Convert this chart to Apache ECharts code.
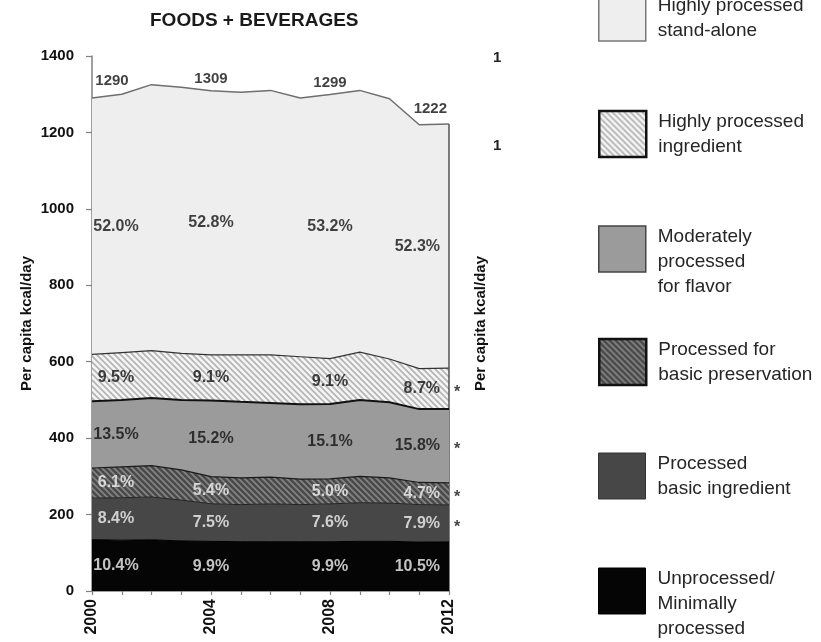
<!DOCTYPE html>
<html>
<head>
<meta charset="utf-8">
<script src="https://cdn.jsdelivr.net/npm/echarts@6/dist/echarts.min.js"></script>
<style>
  html, body { margin: 0; padding: 0; background: #ffffff; }
  #chart { width: 821px; height: 642px; }
</style>
</head>
<body>
<div id="chart"></div>
<script>
// Per capita kcal/day from foods + beverages, by processing level, 2000-2012
const years = ['2000', '2001', '2002', '2003', '2004', '2005', '2006', '2007', '2008', '2009', '2010', '2011', '2012'];
const unprocessed       = [134.3, 133, 134, 131, 129.9, 129, 129, 129, 128.9, 130, 130, 128, 128.6];
const basicIngredient   = [108.6, 111, 112, 107, 98.4, 97, 99, 97, 99.0, 101, 100, 98, 96.8];
const basicPreservation = [79.0, 81, 82, 79, 70.9, 70, 70, 67, 65.3, 69, 66, 58, 57.7];
const flavorProcessed   = [174.5, 175, 177, 183, 199.3, 199, 194, 196, 196.4, 200, 198, 192, 193.4];
const highlyIngredient  = [122.8, 124, 124, 122, 119.3, 123, 126, 124, 118.5, 125, 113, 106, 106.6];
const highlyStandalone  = [670.8, 676, 696, 696, 691.2, 687, 692, 677, 690.9, 685, 681, 638, 638.9];
const labeledYears = ['2000', '2004', '2008', '2012'];
// groups whose 2000-2012 change is marked with an asterisk
const flaggedGroups = ['Processed basic ingredient', 'Processed for basic preservation',
  'Moderately processed for flavor', 'Highly processed ingredient'];
const yMin = 0, yMax = 1400, yStep = 200;

const FONT = '"Liberation Sans", Arial, Helvetica, sans-serif';

// diagonal "\" hatch tile used as a pattern fill
function hatch(bg, stripe, size, lw) {
  const c = document.createElement('canvas');
  c.width = c.height = size;
  const g = c.getContext('2d');
  g.fillStyle = bg;
  g.fillRect(0, 0, size, size);
  g.strokeStyle = stripe;
  g.lineWidth = lw;
  g.beginPath();
  for (let k = -1; k <= 1; k++) {
    g.moveTo(-1, k * size - 1);
    g.lineTo(size + 1, size + k * size + 1);
  }
  g.stroke();
  return { image: c, repeat: 'repeat' };
}

// bottom to top
const layers = [
  { name: 'Unprocessed/Minimally processed', legend: 'Unprocessed/\nMinimally\nprocessed', values: unprocessed,
    fill: '#050505', line: { color: '#000000', width: 1 }, labelColor: '#f2f2f2',
    box: { color: '#000000', width: 1 } },
  { name: 'Processed basic ingredient', legend: 'Processed\nbasic ingredient', values: basicIngredient,
    fill: '#474747', line: { color: '#222222', width: 1 }, labelColor: '#f2f2f2',
    box: { color: '#333333', width: 1 } },
  { name: 'Processed for basic preservation', legend: 'Processed for\nbasic preservation', values: basicPreservation,
    fill: hatch('#4a4a4a', '#858585', 6, 1.6), line: { color: '#1a1a1a', width: 1.2 }, labelColor: '#f2f2f2',
    box: { color: '#111111', width: 2.5 } },
  { name: 'Moderately processed for flavor', legend: 'Moderately\nprocessed\nfor flavor', values: flavorProcessed,
    fill: '#9b9b9b', line: { color: '#111111', width: 2 }, labelColor: '#111111',
    box: { color: '#444444', width: 1.5 } },
  { name: 'Highly processed ingredient', legend: 'Highly processed\ningredient', values: highlyIngredient,
    fill: hatch('#f4f4f4', '#b3b3b3', 6, 1.6), line: { color: '#333333', width: 1.2 }, labelColor: '#111111',
    box: { color: '#111111', width: 2.5 } },
  { name: 'Highly processed stand-alone', legend: 'Highly processed\nstand-alone', values: highlyStandalone,
    fill: '#eeeeee', line: { color: '#6e6e6e', width: 1.5 }, labelColor: '#111111',
    box: { color: '#777777', width: 1.5 } }
];

const totals = years.map((_, j) => layers.reduce((s, l) => s + l.values[j], 0));
const lastIdx = years.length - 1;

// horizontal placement of annotations in the first / last columns
function colLabel(j, extra) {
  if (j === 0) return Object.assign({ align: 'center', offset: [24, 0] }, extra);
  if (j === lastIdx) return Object.assign({ align: 'right', offset: [-9, 0] }, extra);
  return Object.assign({ align: 'center', offset: [0, 0] }, extra);
}

const shareData = [];
const starData = [];
labeledYears.forEach(y => {
  const j = years.indexOf(y);
  let base = 0;
  layers.forEach(l => {
    const v = l.values[j];
    const mid = base + v / 2;
    base += v;
    const pct = (v / totals[j] * 100).toFixed(1) + '%';
    shareData.push({
      value: [j, mid],
      label: colLabel(j, { formatter: pct, color: l.labelColor })
    });
    if (j === lastIdx && flaggedGroups.indexOf(l.name) >= 0) {
      starData.push({ value: [j, mid] });
    }
  });
});

const totalData = labeledYears.map(y => {
  const j = years.indexOf(y);
  let offset = [0, -12];
  let align = 'center';
  if (j === 0) offset = [20, -17];
  if (j === lastIdx) { offset = [-2, -15]; align = 'right'; }
  return { value: [j, totals[j]], label: { formatter: String(Math.round(totals[j])), offset, align } };
});

const areaSeries = layers.map((l, i) => ({
  name: l.name,
  type: 'line',
  stack: 'kcal',
  data: l.values,
  symbol: 'none',
  smooth: false,
  z: 2 + (layers.length - i),
  lineStyle: { color: l.line.color, width: l.line.width },
  itemStyle: { color: l.labelColor === '#111111' ? '#cccccc' : '#333333' },
  areaStyle: { color: l.fill, opacity: 1 },
  emphasis: { disabled: true },
  silent: true
}));

// closing edge of the stacked area at the final year
areaSeries[areaSeries.length - 1].markLine = {
  silent: true,
  symbol: 'none',
  label: { show: false },
  lineStyle: { color: '#555555', width: 1.5, type: 'solid' },
  data: [[{ coord: [lastIdx, 0] }, { coord: [lastIdx, totals[lastIdx]] }]]
};

const labelBase = { show: true, position: 'inside', fontFamily: FONT, fontWeight: 'bold', fontSize: 16 };

// three-line entries get a blank leading line so their first line sits beside the box top
const legendTops = [541, 451, 337, 199, 109, -7];
const legends = layers.map((l, i) => {
  const three = l.legend.split('\n').length === 3;
  const text = three ? '\n' + l.legend : l.legend;
  return {
    data: [{ name: l.name, icon: 'rect' }],
    left: 598,
    top: legendTops[i],
    orient: 'vertical',
    padding: 0,
    itemGap: 0,
    itemWidth: 47,
    itemHeight: 46,
    selectedMode: false,
    formatter: () => text,
    itemStyle: { color: l.fill, borderColor: l.box.color, borderWidth: l.box.width },
    textStyle: {
      fontFamily: FONT, fontSize: 19, lineHeight: 25, color: '#262626',
      padding: [0, 0, 0, 7]
    }
  };
});

const chart = echarts.init(document.getElementById('chart'), null, { renderer: 'canvas' });
chart.setOption({
  animation: false,
  backgroundColor: '#ffffff',
  title: {
    text: 'FOODS + BEVERAGES',
    left: 145,
    top: 6,
    textStyle: { fontFamily: FONT, fontSize: 19, fontWeight: 'bold', color: '#1a1a1a' }
  },
  legend: legends,
  grid: { left: 92, right: 372, top: 56, bottom: 51, containLabel: false },
  xAxis: {
    type: 'category',
    data: years,
    boundaryGap: false,
    axisLine: { lineStyle: { color: '#808080', width: 1.5 } },
    axisTick: { show: true, interval: 0, length: 4, lineStyle: { color: '#808080', width: 1.2 } },
    axisLabel: {
      interval: (idx, val) => labeledYears.indexOf(val) >= 0,
      rotate: 90, margin: 8,
      fontFamily: FONT, fontWeight: 'bold', fontSize: 16, color: '#111111'
    },
    splitLine: { show: false }
  },
  yAxis: [{
    type: 'value',
    min: yMin, max: yMax, interval: yStep,
    name: 'Per capita kcal/day',
    nameLocation: 'middle',
    nameRotate: 90,
    nameGap: 58,
    nameTextStyle: { fontFamily: FONT, fontWeight: 'bold', fontSize: 15, color: '#111111' },
    axisLine: { show: true, lineStyle: { color: '#808080', width: 1.5 } },
    axisTick: { show: true, length: 6, lineStyle: { color: '#808080', width: 1.2 } },
    axisLabel: {
      margin: 18, fontFamily: FONT, fontWeight: 'bold', fontSize: 15, color: '#111111',
      formatter: v => String(v)
    },
    splitLine: { show: false }
  }, {
    type: 'value',
    position: 'right',
    min: yMin, max: yMax, interval: yStep,
    name: 'Per capita kcal/day',
    nameLocation: 'middle',
    nameRotate: 90,
    nameGap: 24,
    nameTextStyle: { fontFamily: FONT, fontWeight: 'bold', fontSize: 15, color: '#111111' },
    axisLine: { show: false },
    axisTick: { show: false },
    axisLabel: { show: false },
    splitLine: { show: false }
  }],
  graphic: [
    { type: 'text', left: 493, top: 50, style: { text: '1', font: 'bold 15px ' + FONT, fill: '#222222' } },
    { type: 'text', left: 493, top: 138, style: { text: '1', font: 'bold 15px ' + FONT, fill: '#222222' } }
  ],
  series: areaSeries.concat([
    {
      name: 'shares',
      type: 'scatter',
      symbolSize: 0,
      silent: true,
      z: 20,
      label: labelBase,
      data: shareData
    },
    {
      name: 'totals',
      type: 'scatter',
      symbolSize: 0,
      silent: true,
      z: 20,
      label: Object.assign({}, labelBase, { fontSize: 15, color: '#111111' }),
      data: totalData
    },
    {
      name: 'significance',
      type: 'scatter',
      symbolSize: 0,
      silent: true,
      z: 20,
      label: Object.assign({}, labelBase, { formatter: '*', align: 'left', offset: [5, 4], color: '#111111', fontSize: 16 }),
      data: starData
    }
  ])
});
</script>
</body>
</html>
